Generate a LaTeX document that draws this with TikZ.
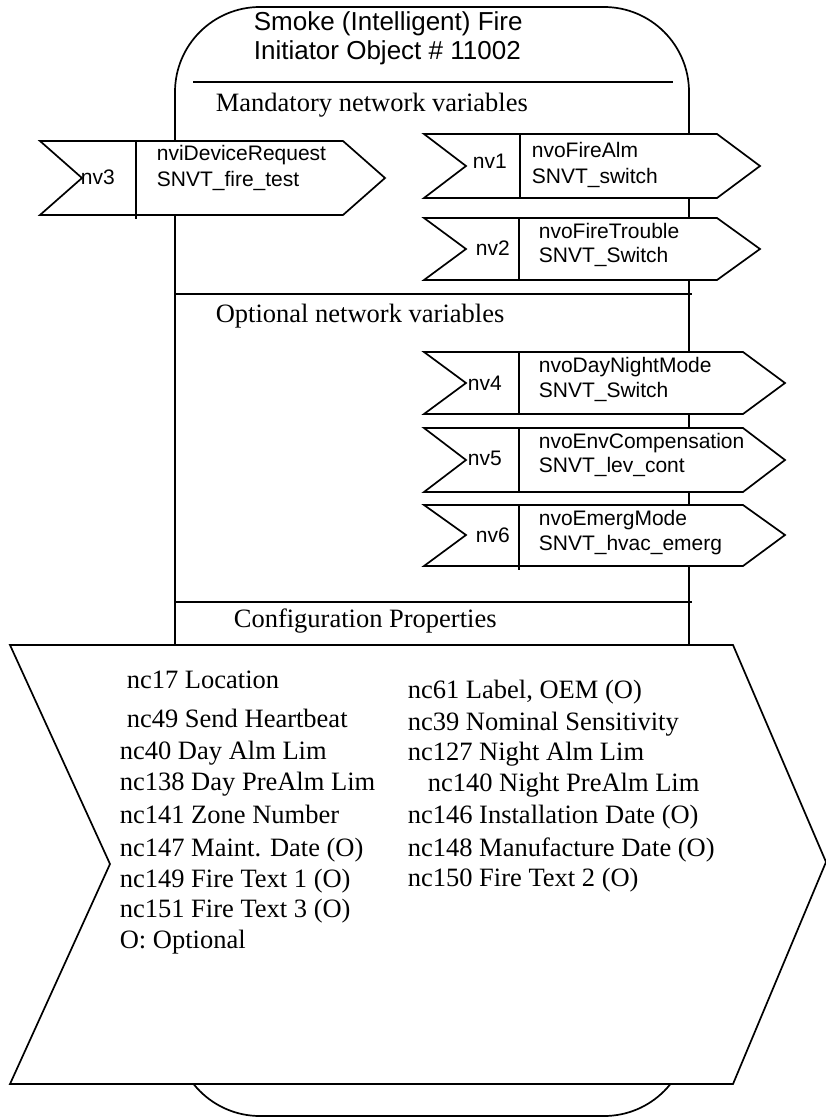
\documentclass[tikz,border=0pt]{standalone}
\usepackage{fontspec}
\setmainfont{Liberation Serif}
\newfontfamily\arialf{Liberation Sans}
\begin{document}
\begin{tikzpicture}[x=1pt,y=-1pt,line width=1.7pt,line join=miter,
  boxline/.style={draw=black,fill=white},
  titlef/.style={font=\arialf\fontsize{26}{30}\selectfont,anchor=base west,inner sep=0pt},
  sansf/.style={font=\arialf\fontsize{21}{24}\selectfont,anchor=base west,inner sep=0pt},
  seriff/.style={font=\fontsize{26.5}{30}\selectfont,anchor=base west,inner sep=0pt}]
\useasboundingbox (0,0) rectangle (826,1118);
% main object outline
\draw[rounded corners=85pt] (175,7) rectangle (689,1116);
\draw (193,82) -- (673,82);
\draw (175,294) -- (692,294);
\draw (175,602) -- (692,602);
% title
\node[titlef] (t1) at (253,31) {Smoke (Intelligent) Fire};
\node[titlef] (t2) at (253,60) {Initiator Object \# 11002};
\node[seriff] (mand) at (215,112) {Mandatory network variables};
\node[seriff] (opt) at (215,322) {Optional network variables};
\node[seriff] (conf) at (233,627) {Configuration Properties};
% nv3 (input)
\draw[boxline] (40,141) -- (343,141) -- (385,178) -- (343,215) -- (40,215) -- (82,178) -- cycle;
\draw (136,141) -- (136,219);
\node[sansf] (nv3) at (80,185) {nv3};
\node[sansf] (nv3a) at (156,161) {nviDeviceRequest};
\node[sansf] (nv3b) at (156,186) {SNVT\_fire\_test};
% nv1
\draw[boxline] (424,134) -- (717,134) -- (760,166) -- (717,198) -- (424,198) -- (466,166) -- cycle;
\draw (520,134) -- (520,198);
\node[sansf] (nv1) at (472,168) {nv1};
\node[sansf] (nv1a) at (531,158) {nvoFireAlm};
\node[sansf] (nv1b) at (531,183) {SNVT\_switch};
% nv2
\draw[boxline] (424,218) -- (717,218) -- (760,249) -- (717,280) -- (424,280) -- (466,249) -- cycle;
\draw (519,218) -- (519,280);
\node[sansf] (nv2) at (475,255) {nv2};
\node[sansf] (nv2a) at (538,238) {nvoFireTrouble};
\node[sansf] (nv2b) at (538,262) {SNVT\_Switch};
% nv4
\draw[boxline] (424,352) -- (743,352) -- (785,383) -- (743,414) -- (424,414) -- (466,383) -- cycle;
\draw (519,352) -- (519,414);
\node[sansf] (nv4) at (467,390) {nv4};
\node[sansf] (nv4a) at (538,372) {nvoDayNightMode};
\node[sansf] (nv4b) at (538,397) {SNVT\_Switch};
% nv5
\draw[boxline] (424,428) -- (743,428) -- (785,460) -- (743,492) -- (424,492) -- (466,460) -- cycle;
\draw (519,428) -- (519,492);
\node[sansf] (nv5) at (467,465) {nv5};
\node[sansf] (nv5a) at (538,448) {nvoEnvCompensation};
\node[sansf] (nv5b) at (538,472) {SNVT\_lev\_cont};
% nv6
\draw[boxline] (424,505) -- (743,505) -- (785,535) -- (743,566) -- (424,566) -- (466,535) -- cycle;
\draw (519,505) -- (519,570);
\node[sansf] (nv6) at (475,542) {nv6};
\node[sansf] (nv6a) at (538,525) {nvoEmergMode};
\node[sansf] (nv6b) at (538,550) {SNVT\_hvac\_emerg};
% configuration chevron
\draw[boxline] (10,645) -- (733,645) -- (826,862) -- (733,1084) -- (10,1084) -- (110,864) -- cycle;
\node[seriff] (c1) at (126,688) {nc17 Location};
\node[seriff] (c2) at (126,727) {nc49 Send Heartbeat};
\node[seriff] (c3) at (119,759) {nc40 Day Alm Lim};
\node[seriff] (c4) at (119,790) {nc138 Day PreAlm Lim};
\node[seriff] (c5) at (119,823) {nc141 Zone Number};
\node[seriff] (c6) at (119,856) {nc147 Maint. Date (O)};
\node[seriff] (c7) at (119,887) {nc149 Fire Text 1 (O)};
\node[seriff] (c8) at (119,917) {nc151 Fire Text 3 (O)};
\node[seriff] (c9) at (119,948) {O: Optional};
\node[seriff] (d1) at (407,698) {nc61 Label, OEM (O)};
\node[seriff] (d2) at (407,730) {nc39 Nominal Sensitivity};
\node[seriff] (d3) at (407,760) {nc127 Night Alm Lim};
\node[seriff] (d4) at (427,791) {nc140 Night PreAlm Lim};
\node[seriff] (d5) at (407,823) {nc146 Installation Date (O)};
\node[seriff] (d6) at (407,856) {nc148 Manufacture Date (O)};
\node[seriff] (d7) at (407,886) {nc150 Fire Text 2 (O)};
\end{tikzpicture}
\end{document}
